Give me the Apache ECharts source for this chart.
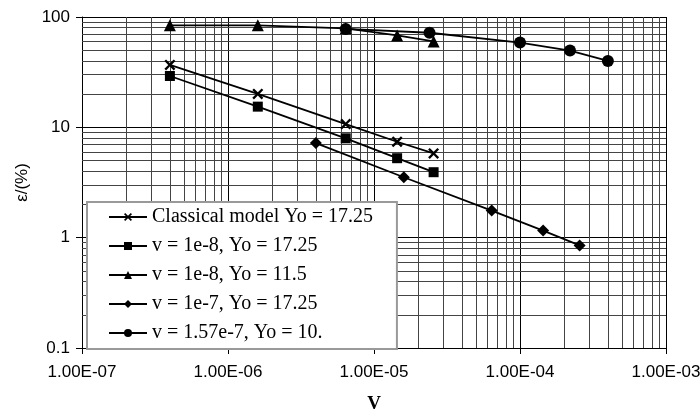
<!DOCTYPE html>
<html>
<head>
<meta charset="utf-8">
<script src="https://cdn.jsdelivr.net/npm/echarts@6/dist/echarts.min.js"></script>
<style>
  html, body { margin: 0; padding: 0; background: #fff; }
  #chart { width: 700px; height: 411px; }
</style>
</head>
<body>
<div id="chart"></div>
<script>
// data
const classicalX = [4e-7, 1.6e-6, 6.4e-6, 1.44e-5, 2.56e-5]
const classicalY = [36.8, 20.1, 10.7, 7.4, 5.8]

const v1e8aX = [4e-7, 1.6e-6, 6.4e-6, 1.44e-5, 2.56e-5]
const v1e8aY = [29.2, 15.4, 7.95, 5.25, 3.92]

const v1e8bX = [4e-7, 1.6e-6, 6.4e-6, 1.44e-5, 2.56e-5]
const v1e8bY = [84, 84, 79, 68, 60]

const v1e7X = [4e-6, 1.6e-5, 6.4e-5, 1.44e-4, 2.56e-4]
const v1e7Y = [7.2, 3.53, 1.76, 1.16, 0.85]

const v157X = [6.4e-6, 2.4e-5, 1e-4, 2.2e-4, 4e-4]
const v157Y = [78, 72, 58.6, 49.6, 40]

const seriesNames = [
    'Classical model Yo = 17.25',
    'v = 1e-8, Yo = 17.25',
    'v = 1e-8, Yo = 11.5',
    'v = 1e-7, Yo = 17.25',
    'v = 1.57e-7, Yo = 10.'
]

const xTickLabels = ['1.00E-07', '1.00E-06', '1.00E-05', '1.00E-04', '1.00E-03']
const yTickLabels = ['0.1', '1', '10', '100']

const xMin = 1e-7, xMax = 1e-3
const yMin = 0.1, yMax = 100

// log minor grid (2..9 in each decade)
const xMinor = []
for (let e = -7; e < -3; e++) {
    for (let k = 2; k <= 9; k++) xMinor.push(k * Math.pow(10, e))
}
const yMinor = []
for (let e = -1; e < 2; e++) {
    for (let k = 2; k <= 9; k++) yMinor.push(k * Math.pow(10, e))
}

const crossSymbol = 'path://M0,1.5 L1.5,0 L5,3.5 L8.5,0 L10,1.5 L6.5,5 L10,8.5 L8.5,10 L5,6.5 L1.5,10 L0,8.5 L3.5,5 Z'

const pair = (xs, ys) => xs.map((x, i) => [x, ys[i]])

const makeSeries = (name, data, symbol, size) => {
    return {
        type: 'line',
        name: name,
        data: data,
        symbol: symbol,
        symbolSize: size,
        showAllSymbol: true,
        lineStyle: { color: '#000', width: 1.8 },
        itemStyle: { color: '#000' },
        z: 5
    }
}

// 网格线
const gridLines = [
    ...xMinor.map(x => [{ coord: [x, yMin] }, { coord: [x, yMax] }]),
    ...yMinor.map(y => [{ coord: [xMin, y] }, { coord: [xMax, y] }])
]

const chart = echarts.init(document.getElementById('chart'))

const option = {
    animation: false,
    backgroundColor: '#fff',
    grid: { left: 82, right: 34, top: 17, bottom: 63, outerBoundsMode: 'none', containLabel: false },
    legend: {
        left: 87,
        top: 202,
        z: 20,
        orient: 'vertical',
        data: seriesNames,
        backgroundColor: '#fff',
        borderColor: '#999',
        borderWidth: 2,
        padding: [5, 24, 6, 21],
        itemGap: 9,
        itemWidth: 38,
        itemHeight: 10,
        textStyle: {
            fontFamily: 'Liberation Serif',
            fontSize: 20,
            lineHeight: 20,
            color: '#000'
        }
    },
    xAxis: {
        type: 'log',
        logBase: 10,
        min: xMin,
        max: xMax,
        name: 'V',
        nameLocation: 'middle',
        nameGap: 47,
        nameTextStyle: {
            fontFamily: 'Liberation Serif',
            fontWeight: 'bold',
            fontSize: 19,
            color: '#000'
        },
        axisLine: { show: true, lineStyle: { color: '#000', width: 1 } },
        axisTick: { show: true, length: 6, lineStyle: { color: '#000' } },
        axisLabel: {
            margin: 16,
            fontFamily: 'Liberation Sans',
            fontSize: 17,
            color: '#000',
            formatter: (v, i) => xTickLabels[i]
        },
        splitLine: { show: true, lineStyle: { color: '#000', width: 1 } }
    },
    yAxis: {
        type: 'log',
        logBase: 10,
        min: yMin,
        max: yMax,
        name: 'ε/(%)',
        nameLocation: 'middle',
        nameRotate: 90,
        nameGap: 42,
        nameTextStyle: {
            fontFamily: 'Liberation Sans',
            fontSize: 17,
            color: '#000'
        },
        axisLine: { show: true, lineStyle: { color: '#000', width: 1 } },
        axisTick: { show: true, length: 6, lineStyle: { color: '#000' } },
        axisLabel: {
            margin: 12,
            fontFamily: 'Liberation Sans',
            fontSize: 17,
            color: '#000',
            formatter: (v, i) => yTickLabels[i]
        },
        splitLine: { show: true, lineStyle: { color: '#000', width: 1 } }
    },
    series: [
        // minor grid lines
        {
            type: 'line',
            data: [],
            silent: true,
            z: 1,
            markLine: {
                silent: true,
                symbol: ['none', 'none'],
                label: { show: false },
                lineStyle: { color: '#444', width: 1, type: 'solid' },
                data: gridLines
            }
        },
        makeSeries(seriesNames[0], pair(classicalX, classicalY), crossSymbol, 11),
        makeSeries(seriesNames[1], pair(v1e8aX, v1e8aY), 'rect', 10),
        makeSeries(seriesNames[2], pair(v1e8bX, v1e8bY), 'triangle', 12),
        makeSeries(seriesNames[3], pair(v1e7X, v1e7Y), 'diamond', 12),
        makeSeries(seriesNames[4], pair(v157X, v157Y), 'circle', 12)
    ]
}

chart.setOption(option)
</script>
</body>
</html>
